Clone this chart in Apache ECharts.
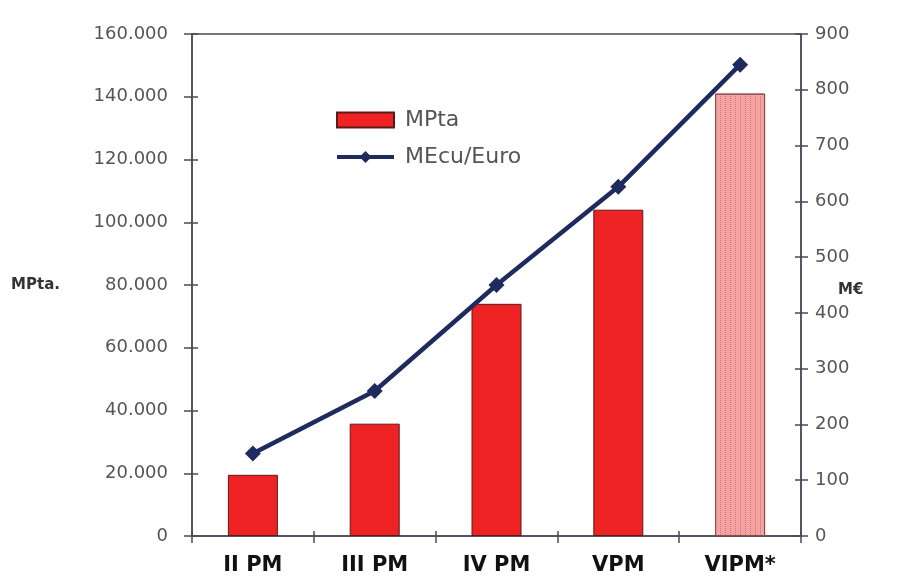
<!DOCTYPE html>
<html>
<head>
<meta charset="utf-8">
<script src="https://cdn.jsdelivr.net/npm/echarts@6/dist/echarts.min.js"></script>
<style>html,body{margin:0;padding:0;background:#fff}#c{width:919px;height:588px}</style>
</head>
<body>
<div id="c"></div>
<script>
var categories = ['II PM', 'III PM', 'IV PM', 'VPM', 'VIPM*'];
var mptaValues = [19500, 35800, 74000, 104000, 141000];
var meuroValues = [148, 260, 450, 626, 845];
var leftTicks = [0, 20000, 40000, 60000, 80000, 100000, 120000, 140000, 160000];
var rightTicks = [0, 100, 200, 300, 400, 500, 600, 700, 800, 900];
var leftAxisName = 'MPta.';
var rightAxisName = 'M€';

var chart = echarts.init(document.getElementById('c'), null, {renderer: 'canvas'});

var FONT = 'DejaVu Sans';

var barData = mptaValues.map(function (v, i) {
  if (i === categories.length - 1) {
    return {
      value: v,
      itemStyle: {
        color: '#f4a3a3',
        borderColor: '#8a4a4a',
        borderWidth: 1,
        decal: {
          symbol: 'rect',
          symbolSize: 1,
          color: 'rgba(190,60,60,0.5)',
          dashArrayX: [1, 4],
          dashArrayY: [1, 1],
          rotation: 0
        }
      }
    };
  }
  return v;
});

function fmtDots(v) {
  return String(v).replace(/\B(?=(\d{3})+(?!\d))/g, '.');
}

var axisLineStyle = {color: '#4a4a5a', width: 1.5};
var lMin = leftTicks[0], lMax = leftTicks[leftTicks.length - 1], lInt = leftTicks[1] - leftTicks[0];
var rMin = rightTicks[0], rMax = rightTicks[rightTicks.length - 1], rInt = rightTicks[1] - rightTicks[0];

chart.setOption({
  animation: false,
  backgroundColor: '#fff',
  aria: {enabled: false, decal: {show: false}},
  grid: {left: 192, right: 118, top: 34, bottom: 52, show: true, borderColor: '#4a4a5a', borderWidth: 1.5},
  graphic: [
    {
      type: 'text',
      left: 838,
      top: 283,
      style: {text: rightAxisName, font: 'bold 15px "DejaVu Sans"', fill: '#333'}
    }
  ],
  legend: {
    orient: 'vertical',
    left: 330,
    top: 104,
    itemWidth: 57,
    itemHeight: 15,
    itemGap: 15,
    textStyle: {fontSize: 22, color: '#555', fontFamily: FONT, padding: [0, 0, 0, 6]},
    data: [
      {name: 'MPta', icon: 'rect'},
      {name: 'MEcu/Euro', lineStyle: {width: 4, color: '#1f2a5e'}}
    ]
  },
  xAxis: [
    {
      type: 'category',
      data: categories,
      axisLine: {lineStyle: axisLineStyle},
      axisTick: {show: true, length: 7, lineStyle: axisLineStyle},
      axisLabel: {fontSize: 21, fontWeight: 'bold', color: '#111', margin: 19, fontFamily: FONT}
    },
    {
      type: 'category',
      data: categories,
      position: 'bottom',
      axisLine: {show: false},
      axisTick: {show: true, inside: true, length: 5, lineStyle: axisLineStyle},
      axisLabel: {show: false}
    }
  ],
  yAxis: [
    {
      type: 'value',
      min: lMin, max: lMax, interval: lInt,
      name: leftAxisName,
      nameLocation: 'middle',
      nameRotate: 0,
      nameGap: 132,
      nameTextStyle: {fontSize: 15, fontWeight: 'bold', color: '#333', fontFamily: FONT},
      axisLine: {show: true, lineStyle: axisLineStyle},
      axisTick: {show: true, length: 8, lineStyle: axisLineStyle},
      splitLine: {show: false},
      axisLabel: {fontSize: 18, color: '#555', margin: 24, fontFamily: FONT, formatter: fmtDots}
    },
    {
      type: 'value',
      min: rMin, max: rMax, interval: rInt,
      position: 'right',
      axisLine: {show: true, lineStyle: axisLineStyle},
      axisTick: {show: true, length: 7, lineStyle: axisLineStyle},
      splitLine: {show: false},
      axisLabel: {fontSize: 18, color: '#555', margin: 14, fontFamily: FONT}
    },
    {
      type: 'value',
      min: lMin, max: lMax, interval: lInt,
      position: 'left',
      axisLine: {show: false},
      axisTick: {show: true, inside: true, length: 6, lineStyle: axisLineStyle},
      splitLine: {show: false},
      axisLabel: {show: false}
    },
    {
      type: 'value',
      min: rMin, max: rMax, interval: rInt,
      position: 'right',
      axisLine: {show: false},
      axisTick: {show: true, inside: true, length: 6, lineStyle: axisLineStyle},
      splitLine: {show: false},
      axisLabel: {show: false}
    }
  ],
  series: [
    {
      name: 'MPta',
      type: 'bar',
      yAxisIndex: 0,
      barWidth: 50,
      data: barData,
      itemStyle: {color: '#ee2222', borderColor: '#5a1a1a', borderWidth: 1}
    },
    {
      name: 'MEcu/Euro',
      type: 'line',
      yAxisIndex: 1,
      data: meuroValues,
      symbol: 'diamond',
      symbolSize: 16,
      lineStyle: {color: '#1f2a5e', width: 4.5},
      itemStyle: {color: '#1f2a5e'}
    }
  ]
});
</script>
</body>
</html>
